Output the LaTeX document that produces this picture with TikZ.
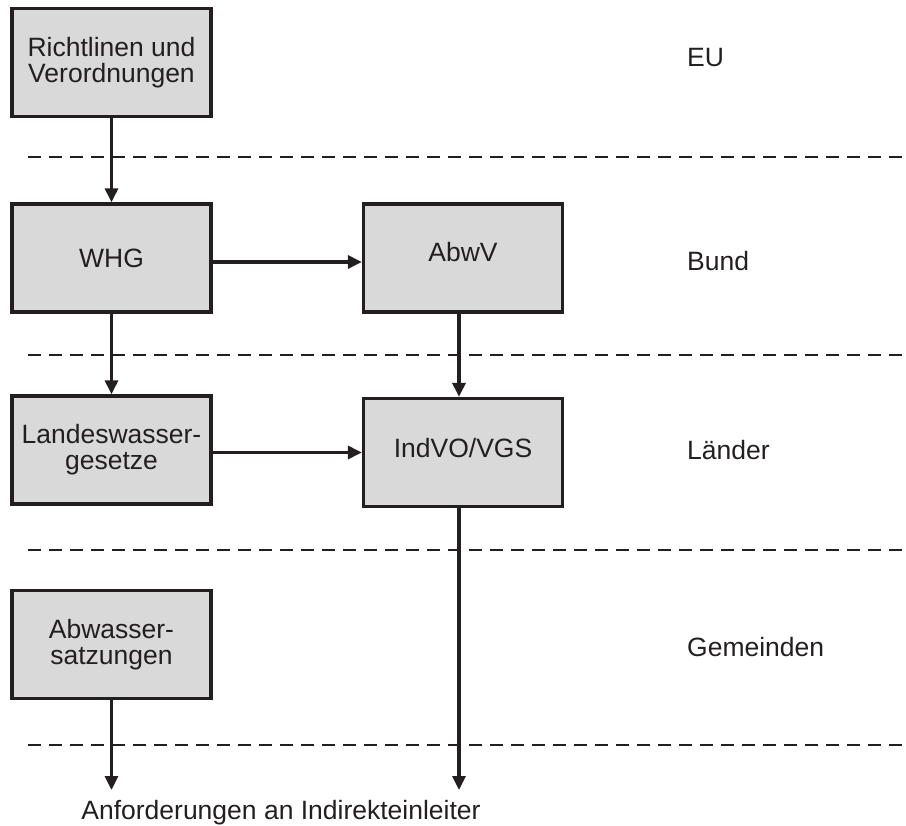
\documentclass[tikz,border=0pt]{standalone}
\usepackage{fontspec}
\setmainfont{Liberation Sans}
\usetikzlibrary{arrows.meta}
\definecolor{ink}{HTML}{231F20}
\definecolor{boxgray}{HTML}{D9D9D9}
\begin{document}
\begin{tikzpicture}[x=1pt,y=-1pt,
  font=\fontsize{26.5}{26}\selectfont,
  box/.style={draw=ink, fill=boxgray, line width=3.3pt, minimum width=199pt, minimum height=108pt, inner sep=0pt, align=center, text=ink},
  conn/.style={draw=ink, line width=3.2pt, -{Triangle[length=14pt,width=13pt]}},
  sep/.style={draw=ink, line width=2.8pt, dash pattern=on 12.5pt off 8.5pt},
  level/.style={anchor=west, inner sep=0pt, text=ink}]
\useasboundingbox (0,0) rectangle (906,826);
% separators
\draw[sep] (28,157) -- (906,157);
\draw[sep] (28,355) -- (906,355);
\draw[sep] (28,550) -- (906,550);
\draw[sep] (28,745) -- (906,745);
% boxes
\node[box] (rl) at (111.5,62.5) {Richtlinen und\\Verordnungen};
\node[box] (whg) at (111.5,258) {WHG};
\node[box, label={[text=ink, yshift=6pt]center:AbwV}] (abwv) at (463,258) {};
\node[box] (lwg) at (111.5,450) {Landeswasser-\\gesetze};
\node[box, label={[text=ink, yshift=4.5pt]center:IndVO/VGS}] (indvo) at (463,452.5) {};
\node[box] (aws) at (111.5,644.5) {Abwasser-\\satzungen};
% level labels
\node[level] (eu) at (687,58) {EU};
\node[level] (bund) at (687,261) {Bund};
\node[level] (laender) at (687,450) {Länder};
\node[level] (gem) at (687,647) {Gemeinden};
% bottom text
\node[anchor=base, inner sep=0pt, text=ink] (anf) at (281,819) {Anforderungen an Indirekteinleiter};
\coordinate (endL) at (111.5,790);
\coordinate (endR) at (459,790);
% connectors
\draw[conn] (rl.south) -- (whg.north);
\draw[conn] (whg.south) -- (lwg.north);
\draw[conn] ([yshift=-4pt]whg.east) -- ([yshift=-4pt]abwv.west);
\draw[conn] ([xshift=-4pt]abwv.south) -- ([xshift=-4pt]indvo.north);
\draw[conn] (lwg.east |- indvo.west) -- (indvo.west);
\draw[conn] (aws.south) -- (endL);
\draw[conn] ([xshift=-4pt]indvo.south) -- (endR);
\end{tikzpicture}
\end{document}
